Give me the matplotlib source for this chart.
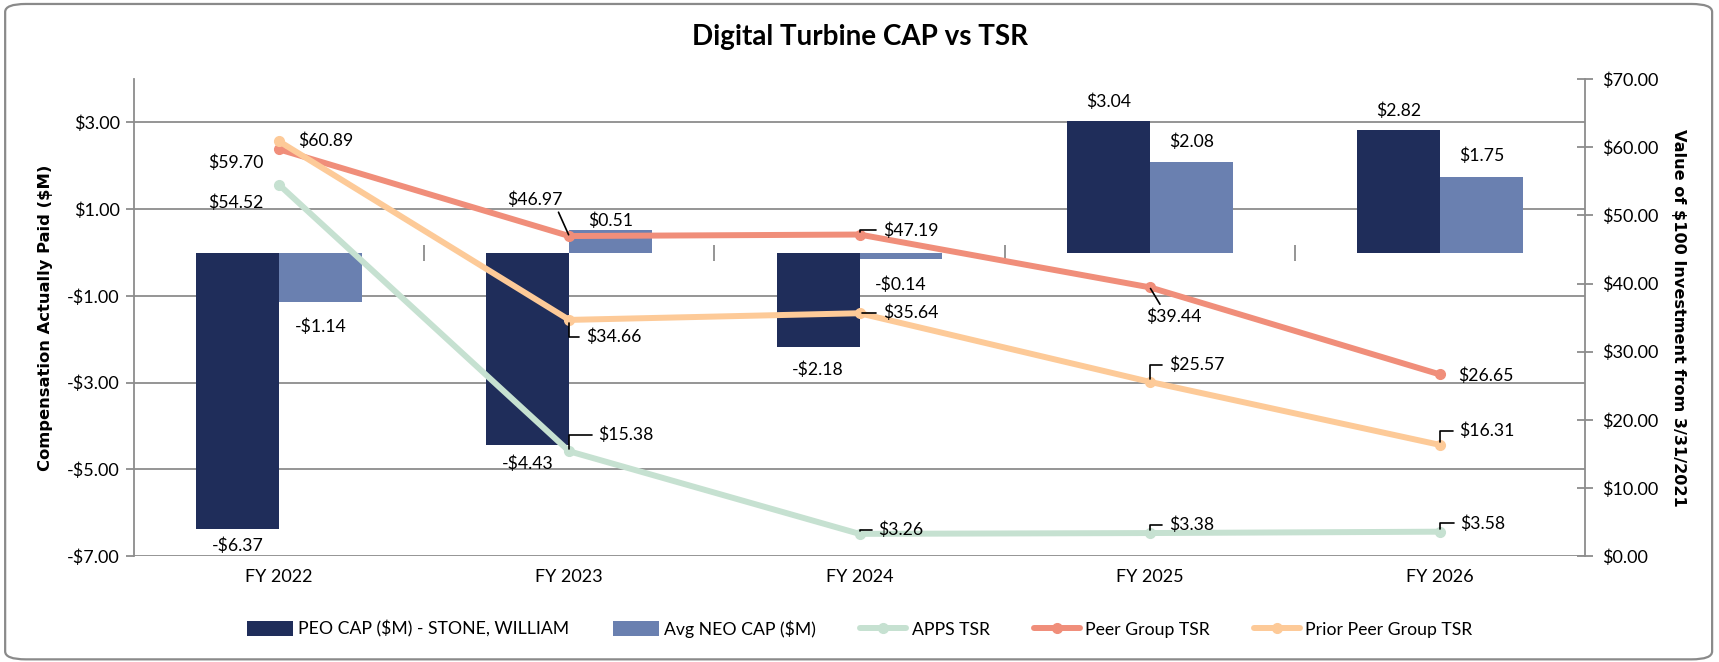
import matplotlib
matplotlib.use("Agg")
import matplotlib.pyplot as plt
from matplotlib.patches import FancyBboxPatch
from matplotlib.ticker import FixedLocator, FuncFormatter
import numpy as np

# ---------------- data ----------------
categories = ["FY 2022", "FY 2023", "FY 2024", "FY 2025", "FY 2026"]
peo_cap = [-6.37, -4.43, -2.18, 3.04, 2.82]
neo_cap = [-1.14, 0.51, -0.14, 2.08, 1.75]
apps_tsr = [54.52, 15.38, 3.26, 3.38, 3.58]
peer_tsr = [59.70, 46.97, 47.19, 39.44, 26.65]
prior_peer_tsr = [60.89, 34.66, 35.64, 25.57, 16.31]
left_ticks = [-7, -5, -3, -1, 1, 3]
right_ticks = [0, 10, 20, 30, 40, 50, 60, 70]

# ---------------- style ----------------
C_PEO = "#1F2D5A"
C_NEO = "#6A80B0"
C_APPS = "#C6E1D1"
C_PEER = "#F08E7A"
C_PRIOR = "#FDCA98"
GRID = "#8C8C8C"
FONT = ["Lato", "DejaVu Sans"]
FS = 12.7
TFS = 13

fig = plt.figure(figsize=(17.19, 6.62), dpi=100)
fig.patch.set_facecolor("white")
border = FancyBboxPatch((0.003, 0.004), 0.993, 0.99,
                        boxstyle="round,pad=0,rounding_size=0.012",
                        transform=fig.transFigure, facecolor="white",
                        edgecolor="#8A8A8A", linewidth=1.6, zorder=-10)
fig.patches.append(border)

ax = fig.add_axes([0.0778, 0.160, 0.8444, 0.7205])
ax.set_facecolor("none")
x = np.arange(len(categories))
bw = 0.285

b1 = ax.bar(x - bw / 2, peo_cap, bw, color=C_PEO, zorder=2, label="PEO CAP ($M) - STONE, WILLIAM")
b2 = ax.bar(x + bw / 2, neo_cap, bw, color=C_NEO, zorder=2, label="Avg NEO CAP ($M)")

ax.set_xlim(-0.5, len(categories) - 0.5)
ax.set_ylim(-7, 4)
ax.yaxis.set_major_locator(FixedLocator(left_ticks))
ax.yaxis.set_major_formatter(FuncFormatter(lambda v, p: ("-$%.2f" % abs(v)) if v < 0 else "$%.2f" % v))
ax.yaxis.grid(True, color=GRID, linewidth=1.3)
ax.set_axisbelow(True)
ax.set_xticks(x)
ax.set_xticklabels(categories)
ax.tick_params(axis="x", length=0, pad=9, labelsize=TFS)
ax.tick_params(axis="y", direction="out", length=6, width=1.3, color=GRID, labelsize=TFS, pad=4)
for lab in ax.get_xticklabels() + ax.get_yticklabels():
    lab.set_family(FONT)
for s in ["top", "right", "bottom"]:
    ax.spines[s].set_visible(False)
ax.spines["left"].set_color(GRID)
ax.spines["left"].set_linewidth(1.3)

# zero line with category-boundary ticks
zero_frac = (0 - ax.get_ylim()[0]) / (ax.get_ylim()[1] - ax.get_ylim()[0])
sec = ax.secondary_xaxis(zero_frac)
sec.set_xticks(np.arange(len(categories) - 1) + 0.5)
sec.tick_params(axis="x", direction="inout", length=12, width=1.3, color=GRID, labelbottom=False, labeltop=False)
sec.spines["bottom"].set_color(GRID)
sec.spines["bottom"].set_linewidth(1.3)
for s in ["top", "left", "right"]:
    sec.spines[s].set_visible(False)

ax.set_ylabel("Compensation Actually Paid ($M)", fontsize=11.8, fontweight="bold",
              family="DejaVu Sans", labelpad=10)

# bar labels
def money(v):
    return ("-$%.2f" % abs(v)) if v < 0 else "$%.2f" % v

peo_off = [-12, -14, -16, 14, 14]
neo_off = [-18, 7, -19, 15, 15]
for i in range(len(categories)):
    ax.annotate(money(peo_cap[i]), (x[i] - bw / 2, peo_cap[i]), xytext=(0, peo_off[i]),
                textcoords="offset points", ha="center", va="center", fontsize=FS, family=FONT, zorder=5)
    ax.annotate(money(neo_cap[i]), (x[i] + bw / 2, neo_cap[i]), xytext=(0, neo_off[i]),
                textcoords="offset points", ha="center", va="center", fontsize=FS, family=FONT, zorder=5)

# ---------------- lines on right axis ----------------
ax2 = ax.twinx()
ax2.set_ylim(0, 70)
lkw = dict(linewidth=4.3, marker="o", markersize=7, solid_capstyle="round")
l1, = ax2.plot(x, apps_tsr, color=C_APPS, label="APPS TSR", **lkw)
l2, = ax2.plot(x, peer_tsr, color=C_PEER, label="Peer Group TSR", **lkw)
l3, = ax2.plot(x, prior_peer_tsr, color=C_PRIOR, label="Prior Peer Group TSR", **lkw)
ax2.yaxis.set_major_locator(FixedLocator(right_ticks))
ax2.yaxis.set_major_formatter(FuncFormatter(lambda v, p: "$%.2f" % v))
ax2.tick_params(axis="y", direction="inout", length=12, width=1.3, color=GRID, labelsize=TFS, pad=6)
for lab in ax2.get_yticklabels():
    lab.set_family(FONT)
for s in ["top", "left", "bottom"]:
    ax2.spines[s].set_visible(False)
ax2.spines["right"].set_color(GRID)
ax2.spines["right"].set_linewidth(1.3)
ax2.set_ylabel("Value of $100 Investment from 3/31/2021", fontsize=11.6, fontweight="bold",
               family="DejaVu Sans", rotation=-90, labelpad=20)

# label offsets (points) and leader styles: None, 'elbow', 'straight'
apps_lab = [(-31, -13), (41, 12), (30, 3), (30, 6), (31, 6)]
apps_lead = [None, "elbow", "elbow", "elbow", "elbow"]
peer_lab = [(-31, -10), (-25, 26), (37, 3), (17, -21), (33, -1)]
peer_lead = [None, "straight", "elbow", "straight", None]
prior_lab = [(34, 0), (32, -12), (37, 0), (34, 12), (34, 10)]
prior_lead = [None, "elbow", "elbow", "elbow", "elbow"]

def label_series(vals, offs, leads):
    for i, v in enumerate(vals):
        dx, dy = offs[i]
        kw = dict(textcoords="offset points", ha="center", va="center", fontsize=FS,
                  family=FONT, zorder=6)
        if leads[i] == "elbow":
            kw["arrowprops"] = dict(arrowstyle="-", color="black", lw=1.2,
                                    connectionstyle="angle,angleA=0,angleB=90,rad=0",
                                    relpos=(0, 0.5), shrinkA=3, shrinkB=2)
        elif leads[i] == "straight":
            kw["arrowprops"] = dict(arrowstyle="-", color="black", lw=1.2,
                                    relpos=(0.9 if dx < 0 else 0.3, 0.0 if dy > 0 else 1.0),
                                    shrinkA=1, shrinkB=1)
        ax2.annotate("$%.2f" % v, (x[i], v), xytext=(dx, dy), **kw)

label_series(apps_tsr, apps_lab, apps_lead)
label_series(peer_tsr, peer_lab, peer_lead)
label_series(prior_peer_tsr, prior_lab, prior_lead)

# ---------------- title & legend ----------------
fig.text(0.5, 0.944, "Digital Turbine CAP vs TSR", ha="center", va="center",
         fontsize=20, fontweight="bold", family=FONT)

leg = fig.legend([b1, b2, l1, l2, l3],
                 [b1.get_label(), b2.get_label(), l1.get_label(), l2.get_label(), l3.get_label()],
                 loc="center", bbox_to_anchor=(0.5, 0.05), ncol=5, frameon=False,
                 prop={"family": FONT, "size": FS}, handlelength=2.6, handletextpad=0.3,
                 columnspacing=2.5, handleheight=0.9)

fig.savefig("out.png", dpi=100, facecolor="white")
